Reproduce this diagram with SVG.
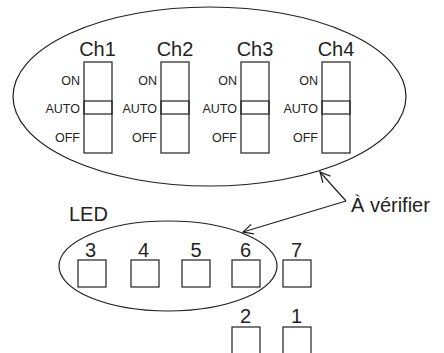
<svg xmlns="http://www.w3.org/2000/svg" width="444" height="353" viewBox="0 0 444 353">
<style>
.s{fill:none;stroke:#231f20;stroke-width:1.2}
.t{font-family:"Liberation Sans",Arial,sans-serif;fill:#231f20}
.big{font-size:20px}
.sm{font-size:12.5px;text-anchor:end}
.c{text-anchor:middle}
</style>
<defs>
<marker id="ah" viewBox="0 0 12 12" refX="11" refY="6" markerWidth="12" markerHeight="12" markerUnits="userSpaceOnUse" orient="auto">
<path d="M1,1 L11,6 L1,11" fill="none" stroke="#231f20" stroke-width="1.2"/>
</marker>
<g id="sw">
<rect class="s" x="0" y="0" width="28" height="91"/>
<rect class="s" x="0" y="39" width="28" height="13"/>
</g>
</defs>
<rect width="444" height="353" fill="#fff"/>
<g id="panel">
<ellipse class="s" cx="209.5" cy="96.5" rx="196.5" ry="89.5"/>
</g>
<g id="ch1">
<text class="t big c" x="97.5" y="56">Ch1</text>
<use href="#sw" x="84" y="62"/>
<text class="t sm" x="80" y="85">ON</text>
<text class="t sm" x="80" y="113">AUTO</text>
<text class="t sm" x="80" y="141.5">OFF</text>
</g>
<g id="ch2">
<text class="t big c" x="175" y="56">Ch2</text>
<use href="#sw" x="161" y="62"/>
<text class="t sm" x="157" y="85">ON</text>
<text class="t sm" x="157" y="113">AUTO</text>
<text class="t sm" x="157" y="141.5">OFF</text>
</g>
<g id="ch3">
<text class="t big c" x="255" y="56">Ch3</text>
<use href="#sw" x="241" y="62"/>
<text class="t sm" x="237" y="85">ON</text>
<text class="t sm" x="237" y="113">AUTO</text>
<text class="t sm" x="237" y="141.5">OFF</text>
</g>
<g id="ch4">
<text class="t big c" x="336" y="56">Ch4</text>
<use href="#sw" x="322" y="62"/>
<text class="t sm" x="318" y="85">ON</text>
<text class="t sm" x="318" y="113">AUTO</text>
<text class="t sm" x="318" y="141.5">OFF</text>
</g>
<g id="led-label">
<text class="t big" x="69" y="221">LED</text>
</g>
<g id="led-group">
<ellipse class="s" cx="168" cy="266" rx="109" ry="45"/>
</g>
<g id="led3"><text class="t big c" x="90.5" y="257">3</text><rect class="s" x="78" y="260" width="28" height="27"/></g>
<g id="led4"><text class="t big c" x="143.5" y="257">4</text><rect class="s" x="131" y="260" width="28" height="27"/></g>
<g id="led5"><text class="t big c" x="196" y="257">5</text><rect class="s" x="182" y="260" width="28" height="27"/></g>
<g id="led6"><text class="t big c" x="245.5" y="257">6</text><rect class="s" x="232" y="260" width="28" height="27"/></g>
<g id="led7"><text class="t big c" x="296.5" y="257">7</text><rect class="s" x="283" y="260" width="28" height="27"/></g>
<g id="led2"><text class="t big c" x="245.5" y="323">2</text><rect class="s" x="232" y="327" width="28" height="27"/></g>
<g id="led1"><text class="t big c" x="296.5" y="323">1</text><rect class="s" x="283" y="327" width="28" height="27"/></g>
<g id="note">
<text class="t big" x="351" y="212">À vérifier</text>
</g>
<g id="connectors">
<line class="s" x1="346" y1="201" x2="320" y2="172" marker-end="url(#ah)"/>
<line class="s" x1="346" y1="201" x2="243" y2="232" marker-end="url(#ah)"/>
</g>
</svg>
